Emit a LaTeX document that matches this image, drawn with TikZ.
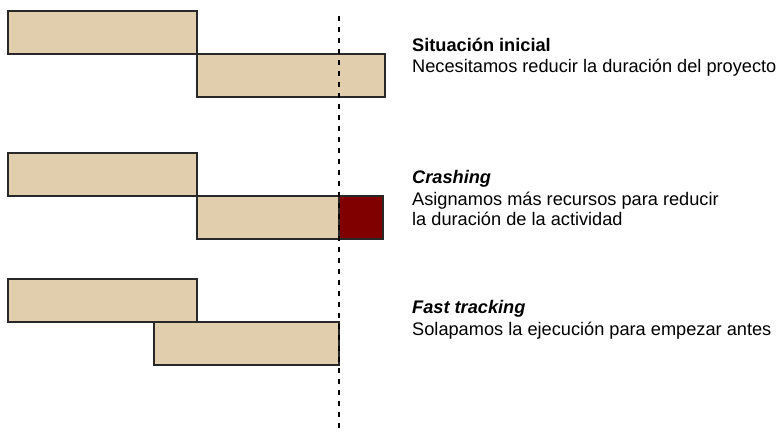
\documentclass[tikz,border=0pt]{standalone}
\usepackage{fontspec}
\setmainfont{Liberation Sans}
\definecolor{barfill}{RGB}{224,206,173}
\definecolor{crashred}{RGB}{128,0,0}
\definecolor{edge}{RGB}{40,40,40}
\begin{document}
\begin{tikzpicture}[x=1pt,y=-1pt,
  bar/.style={draw=edge,line width=1.4pt,fill=barfill},
  crash/.style={draw=edge,line width=1.4pt,fill=crashred},
  txt/.style={anchor=base west,inner sep=0pt,font=\fontsize{18.2}{22}\selectfont},
  ttl/.style={txt,font=\fontsize{18.2}{22}\selectfont\bfseries},
  ittl/.style={txt,font=\fontsize{18.2}{22}\selectfont\bfseries\itshape},
  deadline/.style={line width=1.3pt,dash pattern=on 5pt off 6pt}]
\useasboundingbox (0,0) rectangle (781,435);
% row 1
\filldraw[bar] (8,11) rectangle (197,54);
\filldraw[bar] (197,54) rectangle (385,97);
% row 2
\filldraw[bar] (8,153) rectangle (197,196);
\filldraw[bar] (197,196) rectangle (339,239);
\filldraw[crash] (339,196) rectangle (383,239);
% row 3
\filldraw[bar] (8,279) rectangle (197,322);
\filldraw[bar] (154,322) rectangle (339,365);
% deadline
\coordinate (dtop) at (339,16);
\coordinate (dbot) at (339,432);
\draw[deadline] (dtop) -- (dbot);
% texts
\node[ttl] (t1) at (412,51.5) {Situación inicial};
\node[txt] (d1) at (412,72.5) {Necesitamos reducir la duración del proyecto};
\node[ittl] (t2) at (412,184) {Crashing};
\node[txt] (d2a) at (412,205.5) {Asignamos más recursos para reducir};
\node[txt] (d2b) at (412,226) {la duración de la actividad};
\node[ittl] (t3) at (412,314) {Fast tracking};
\node[txt] (d3) at (412,335.5) {Solapamos la ejecución para empezar antes};
\end{tikzpicture}
\end{document}
